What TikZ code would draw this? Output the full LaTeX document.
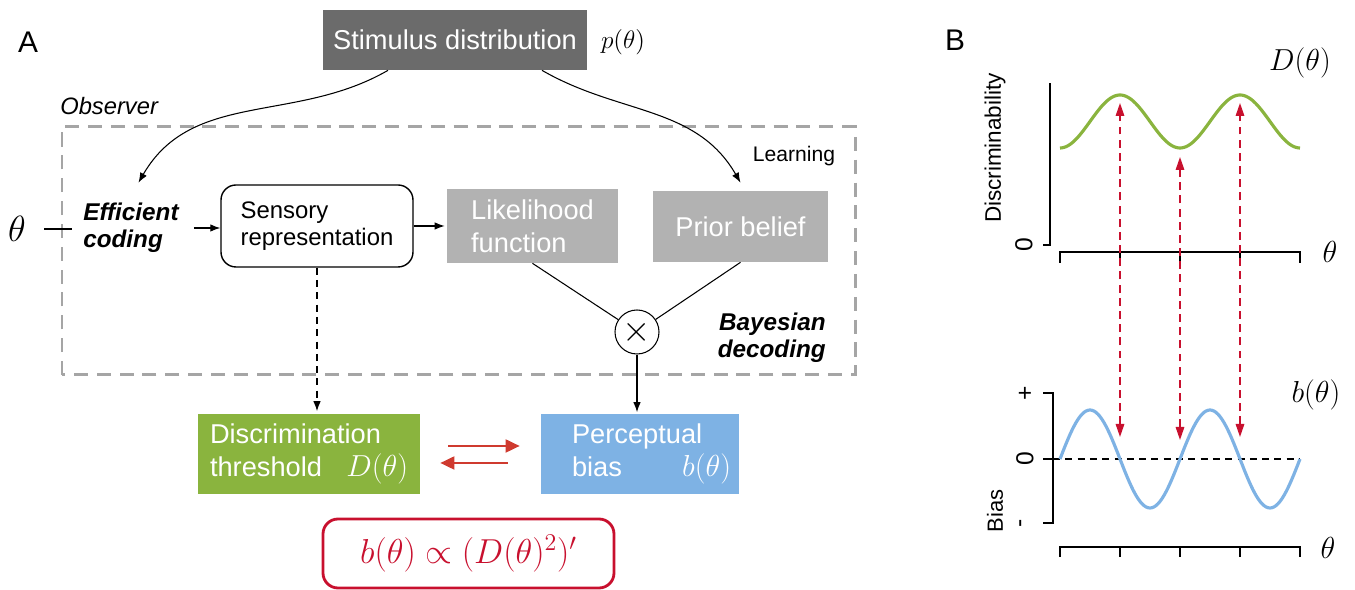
\RequirePackage{fix-cm}
\documentclass[tikz,border=0pt]{standalone}
\usepackage{fontspec}
\setmainfont{Liberation Sans}
\usepackage{amsmath}
\usepackage{graphicx}
\usetikzlibrary{arrows.meta, positioning, calc}
\definecolor{cSlate}{HTML}{6B6B6B}
\definecolor{cAsh}{HTML}{B2B2B2}
\definecolor{cFrame}{HTML}{A5A5A5}
\definecolor{cGrass}{HTML}{8AB43E}
\definecolor{cSky}{HTML}{7EB2E4}
\definecolor{cBrick}{HTML}{CF3A2F}
\definecolor{cCrimson}{HTML}{C8102E}
\newcommand{\symlbl}[1]{{\fontsize{17.28}{19}\selectfont$#1$}}
\tikzset{
	txt/.style      ={font=\fontsize{15.5}{19}\selectfont},
	darkbox/.style  ={rectangle, fill=cSlate, text=white, inner sep=0pt, txt},
	greybox/.style  ={rectangle, fill=cAsh, text=white, inner sep=0pt, align=left, txt},
	sensbox/.style  ={rectangle, rounded corners=3mm, draw=black, line width=0.8pt, inner sep=0pt, align=left, font=\fontsize{13.6}{15.5}\selectfont},
	resbox/.style   ={rectangle, text=white, inner sep=0pt, align=left, minimum height=16mm, txt},
	stagelbl/.style ={inner sep=0pt, font=\fontsize{13.8}{15.5}\selectfont\bfseries\itshape},
	sig/.style      ={-{Latex[length=2mm,width=1.5mm]}, line width=0.6pt},
	dsig/.style     ={sig, dash pattern=on 4pt off 3pt},
	swaparrow/.style={-{Triangle[length=2.8mm,width=2.6mm]}, cBrick, line width=1.1pt},
	linkarr/.style  ={{Triangle[length=2.6mm,width=1.7mm]}-{Triangle[length=2.6mm,width=1.7mm]}, cCrimson, line width=0.9pt, dash pattern=on 4.5pt off 3pt},
	plotaxis/.style ={line width=1.1pt},
	rotlbl/.style   ={rotate=90, inner sep=0pt},
}

\begin{document}
\begin{tikzpicture}[x=0.2mm, y=0.2mm]
	\useasboundingbox (0,0) rectangle (1355,590);
	% panel A
	\node[font=\fontsize{17}{20}\selectfont] (labA) at (28,548) {A};
	\node[darkbox, minimum width=52.8mm, minimum height=12mm] (stim) at (455,550) {Stimulus distribution};
	\node[inner sep=0pt, font=\fontsize{14.4}{18}\selectfont] (ptheta) at (623,548) {$p(\theta)$};
	\node[anchor=west, inner sep=0pt, font=\fontsize{13.5}{16}\selectfont\itshape] (obs) at (60,484) {Observer};
	% observer frame
	\draw[cFrame, line width=1.7pt, dash pattern=on 8pt off 5pt] (62,215) rectangle (855,463);
	\node[font=\fontsize{12}{14}\selectfont] (learn) at (794,434) {Learning};
	\node[inner sep=0pt, font=\fontsize{20.74}{24}\selectfont] (theta) at (17,361) {$\theta$};
	\node[stagelbl, anchor=west, align=left] (eff) at (83,362) {Efficient\\coding};
	\node[sensbox, minimum width=38.4mm, minimum height=16.4mm] (sens) at (317,364) {Sensory\\representation};
	\node[greybox, minimum width=34.2mm, minimum height=14.8mm] (like) at (532.5,364) {Likelihood\\function};
	\node[greybox, minimum width=35mm, minimum height=14.2mm] (prior) at (740.5,363.5) {Prior belief};
	\node[circle, draw, line width=0.6pt, minimum size=8.8mm, inner sep=0pt, font=\fontsize{20.74}{22}\selectfont] (mult) at (637,258) {$\times$};
	\node[stagelbl, anchor=east, align=right] (bayes) at (826,252) {Bayesian\\decoding};
	% outcomes
	\node[resbox, fill=cGrass, minimum width=44.4mm, text width=39.6mm] (disc) at (309,136) {Discrimination\\threshold\hskip0pt plus1fill\symlbl{D(\theta)}};
	\node[resbox, fill=cSky, minimum width=39.6mm, text width=36.4mm] (bias) at (640,136) {\hspace*{4.6mm}Perceptual\\\hspace*{4.6mm}bias\hskip0pt plus1fill\symlbl{b(\theta)}};
	\node[draw=cCrimson, line width=1.6pt, rounded corners=3mm, minimum width=58.2mm, minimum height=13.8mm, text=cCrimson, font=\fontsize{20.74}{24}\selectfont] (rel) at (468.5,36.5) {\scalebox{0.95}{$b(\theta)\propto(D(\theta)^2)'$}};
	% connectors
	\draw[sig] ([xshift=-13.4mm]stim.south) to[out=-150, in=60] ([shift={(1.5mm,4mm)}]eff.north);
	\draw[sig] ([xshift=17.4mm]stim.south) to[out=-30, in=120] ([yshift=1.6mm]prior.north);
	\draw[line width=0.6pt, shorten <=3.6mm, shorten >=2.2mm] (theta.east) -- (theta.east -| eff.west);
	\draw[sig, shorten <=3mm] (eff.east) -- (eff.east -| sens.west);
	\draw[sig, shorten >=0.4mm] (sens) -- (like);
	\draw[line width=0.6pt] (like.south) -- (mult);
	\draw[line width=0.6pt] (prior.south) -- (mult);
	\draw[sig, shorten >=0.3mm] (mult) -- (mult |- bias.north);
	\draw[dsig, shorten >=0.5mm] (sens) -- (sens |- disc.north);
	\draw[swaparrow, shorten <=5.6mm, shorten >=4.2mm] ([yshift=1.6mm]disc.east) -- ([yshift=1.6mm]bias.west);
	\draw[swaparrow, shorten <=6.6mm, shorten >=4mm] ([yshift=-1.8mm]bias.west) -- ([yshift=-1.8mm]disc.east);
	% panel B
	\node[font=\fontsize{17}{20}\selectfont] (labB) at (955,550) {B};
	\node[font=\fontsize{17.28}{22}\selectfont] (Dlab) at (1300,527) {$D(\theta)$};
	\node[font=\fontsize{17.28}{22}\selectfont] (blab) at (1316,195) {$b(\theta)$};
	\node[font=\fontsize{17.28}{20}\selectfont] (th1) at (1330,338) {$\theta$};
	\node[font=\fontsize{17.28}{20}\selectfont] (th2) at (1328,42) {$\theta$};
	\node[rotlbl, font=\fontsize{12.8}{15}\selectfont] (ylab1) at (995,442) {Discriminability};
	\node[rotlbl, font=\fontsize{12.5}{15}\selectfont] (ylab2) at (995,79) {Bias};
	\node[rotlbl, font=\fontsize{14}{16}\selectfont] (zero1) at (1024,345) {0};
	\node[rotlbl, font=\fontsize{14}{16}\selectfont] (plus) at (1026,197) {+};
	\node[rotlbl, font=\fontsize{14}{16}\selectfont] (zero2) at (1025,131) {0};
	\node[rotlbl, font=\fontsize{14}{16}\selectfont] (minus) at (1023,67) {-};
	% discriminability axes
	\draw[plotaxis] (1043,345) -- (1050,345) -- (1050,507);
	\draw[plotaxis] (1060,327) -- (1060,338) -- (1300,338) -- (1300,327);
	\foreach \t in {1120,1180,1240} \draw[plotaxis] (\t,338) -- (\t,327);
	\draw[cGrass, line width=1.8pt] plot[domain=1060:1300, samples=121, smooth] (\x,{468.5-26.5*cos(3*(\x-1060))});
	% bias axes
	\draw[plotaxis] (1043,197) -- (1053,197) -- (1053,67) -- (1043,67);
	\draw[plotaxis] (1043,131) -- (1053,131);
	\draw[line width=0.8pt, dash pattern=on 4pt off 3pt] (1053,131) -- (1300,131);
	\draw[plotaxis] (1060,33) -- (1060,43) -- (1300,43) -- (1300,33);
	\foreach \t in {1120,1180,1240} \draw[plotaxis] (\t,43) -- (\t,33);
	\draw[cSky, line width=1.8pt] plot[domain=1060:1300, samples=121, smooth] (\x,{131+49*sin(3*(\x-1060))});
	% links between curves
	\draw[linkarr] (1120,153) -- (1120,487);
	\draw[linkarr] (1180,150) -- (1180,433);
	\draw[linkarr] (1240,153) -- (1240,487);
\end{tikzpicture}
\end{document}
